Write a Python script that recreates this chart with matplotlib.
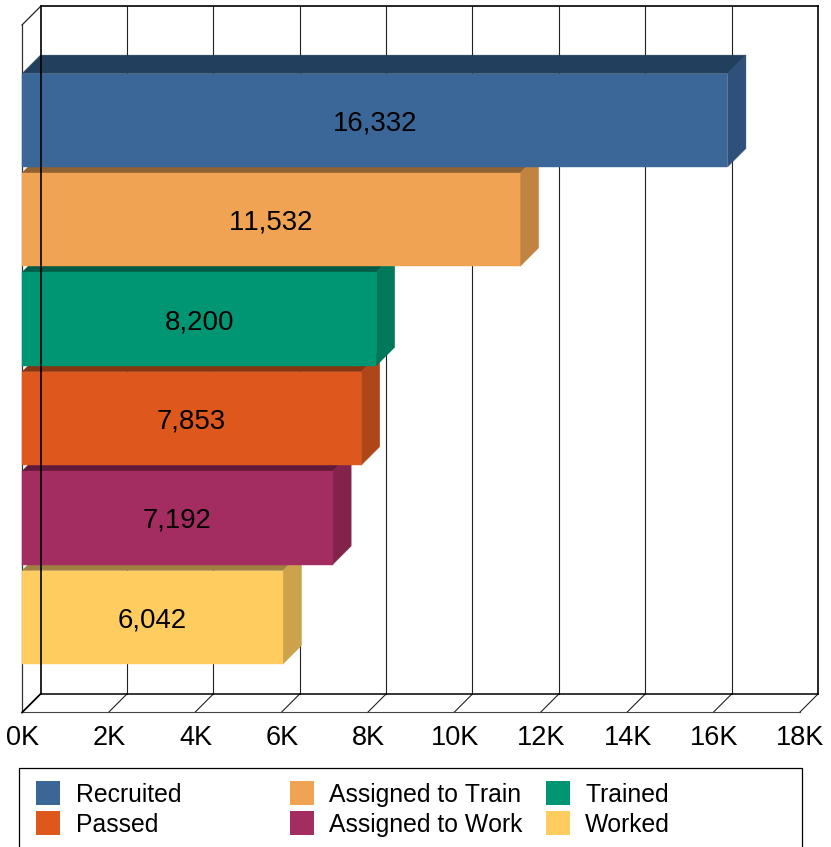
import matplotlib
matplotlib.use("Agg")
import matplotlib.pyplot as plt
from matplotlib.patches import Polygon, Rectangle
from matplotlib.transforms import ScaledTranslation

plt.rcParams['font.family'] = ['Liberation Sans', 'DejaVu Sans']
plt.rcParams['text.kerning_factor'] = 6

categories = ['Recruited', 'Assigned to Train', 'Trained', 'Passed', 'Assigned to Work', 'Worked']
values = [16332, 11532, 8200, 7853, 7192, 6042]
front_colors = ['#3B6698', '#F0A353', '#009673', '#DE581E', '#A32C60', '#FFCC5F']
top_colors = ['#233F5E', '#8F6233', '#005B46', '#843612', '#611A3A', '#A08040']
side_colors = ['#2F5179', '#C08342', '#00785A', '#AE4618', '#83234C', '#CCA34C']
xticks = list(range(0, 18001, 2000))
xticklabels = [f'{t // 1000}K' for t in xticks]

W, H = 831, 847
X0, X1 = 22.0, 799.5          # front plane, pixels
Y_TOP, Y_BOT = 25.0, 712.5
DEPTH = 18.5
PITCH = 99.4
FIRST = 120.3
BAR_H = 93.4 / PITCH

fig = plt.figure(figsize=(W / 100, H / 100), dpi=100)
ax = fig.add_axes([X0 / W, 1 - Y_BOT / H, (X1 - X0) / W, (Y_BOT - Y_TOP) / H])
ax.set_xlim(0, 18000)
ax.set_ylim((Y_BOT - FIRST) / PITCH, (Y_TOP - FIRST) / PITCH)
for s in ax.spines.values():
    s.set_visible(False)
ax.patch.set_visible(False)
ax.set_yticks([])
ax.set_xticks(xticks, xticklabels, fontsize=19.5, color='#000000')
ax.tick_params(axis='x', length=0, pad=9)
shift = ScaledTranslation(1 / 100, 0, fig.dpi_scale_trans)
for lab in ax.get_xticklabels():
    lab.set_transform(lab.get_transform() + shift)

DX = DEPTH * 18000 / (X1 - X0)
DY = DEPTH / PITCH
ymin, ymax = ax.get_ylim()[1], ax.get_ylim()[0]   # top, bottom in data


def line(xs, ys, lw=0.8, color='#000000', z=1):
    ax.plot(xs, ys, color=color, lw=lw, zorder=z, clip_on=False, solid_capstyle='projecting')


# back wall verticals and floor diagonals
for t in xticks:
    if t not in (0, 18000):
        line([t + DX, t + DX], [ymin - DY, ymax - DY], color='#222222')
    line([t, t + DX], [ymax, ymax - DY], color='#222222')
# frame
line([DX, 18000 + DX], [ymin - DY, ymin - DY], lw=1.2)
line([18000 + DX, 18000 + DX], [ymin - DY, ymax - DY], lw=1.2)
line([DX, 18000 + DX], [ymax - DY, ymax - DY], lw=1.1)
line([0, 18000], [ymax, ymax], color='#444444')
line([0, 0], [ymin, ymax], color='#333333', lw=0.9)
line([0, DX], [ymin, ymin - DY], color='#222222', lw=0.9)
line([0, DX], [ymax, ymax - DY], lw=1.2)

# bars, painted from the lowest up
for i in reversed(range(len(values))):
    v = values[i]
    t, b = i - BAR_H / 2, i + BAR_H / 2
    z = 2 + (len(values) - i) / 10
    ax.add_patch(Polygon([(0, t), (DX, t - DY), (v + DX, t - DY), (v, t)], closed=True,
                         fc=top_colors[i], ec=top_colors[i], lw=0.3, zorder=z, clip_on=False))
    ax.add_patch(Polygon([(v, t), (v + DX, t - DY), (v + DX, b - DY), (v, b)], closed=True,
                         fc=side_colors[i], ec=side_colors[i], lw=0.3, zorder=z, clip_on=False))
    ax.add_patch(Rectangle((0, t), v, b - t, fc=front_colors[i], ec=front_colors[i], lw=0.3,
                           zorder=z, clip_on=False))

# the back left edge runs over the bars
line([DX, DX], [ymin - DY, ymax - DY], lw=1.2, z=5)

label_shift = ScaledTranslation(0, -3 / 100, fig.dpi_scale_trans)
for i, v in enumerate(values):
    ax.text(v / 2, i, f'{v:,}', ha='center', va='center', fontsize=19.9, color='#000000', zorder=6,
            transform=ax.transData + label_shift)

# legend
fig.add_artist(Rectangle((19.0 / W, -0.02), (801.5 - 19.0) / W, 0.02 + 1 - 768.0 / H,
                         transform=fig.transFigure, fc='white', ec='#000000', lw=0.9))
swatch_x = [36, 290, 546, 36, 290, 546]
text_x = [76, 329, 585, 76, 329, 585]
rows_y = [793, 793, 793, 823, 823, 823]
for k in range(len(categories)):
    yc = rows_y[k]
    fig.add_artist(Rectangle((swatch_x[k] / W, 1 - (yc + 12) / H), 24 / W, 24 / H,
                             transform=fig.transFigure, fc=front_colors[k], ec='none'))
    fig.text(text_x[k] / W, 1 - (yc - 1) / H, categories[k], ha='left', va='center_baseline',
             fontsize=17.8, color='#000000')

fig.savefig('out.png', dpi=100, facecolor='white')
